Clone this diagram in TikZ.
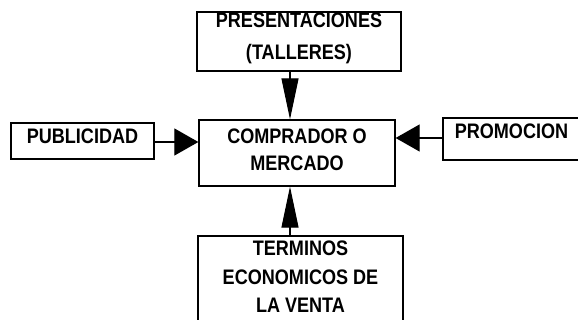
\documentclass[tikz,border=0pt]{standalone}
\usepackage{fontspec}
\setmainfont{Liberation Sans}
\newfontfamily\boxfont[FakeStretch=0.86]{Liberation Sans}
\usetikzlibrary{arrows.meta}
\tikzset{
  box/.style={draw=black, line width=1.3pt, rectangle, inner sep=0pt, align=center,
    font=\boxfont\fontsize{21}{21}\selectfont\bfseries},
  arrv/.style={line width=1.1pt, -{Triangle[length=41pt,width=17pt]}},
  arrh/.style={line width=1.1pt, -{Triangle[length=24pt,width=27pt]}}
}
\newcommand{\liftup}[2]{\raisebox{#1}[\height][\depth]{#2}}
\begin{document}
\begin{tikzpicture}[x=1pt,y=-1pt]
\clip (0,0) rectangle (578,320);
\fill[white] (0,0) rectangle (578,320);
% boxes
\node[box, minimum width=204pt, minimum height=59pt] (pres) at (299,41.5)
  {\liftup{2pt}{\begin{tabular}{@{}c@{}}PRESENTACIONES\\[11pt](TALLERES)\end{tabular}}};
\node[box, minimum width=196pt, minimum height=66pt] (comp) at (297,153)
  {\liftup{0pt}{\begin{tabular}{@{}c@{}}COMPRADOR O\\[6pt]MERCADO\end{tabular}}};
\node[box, minimum width=143pt, minimum height=36pt] (pub) at (82.5,141)
  {\liftup{5pt}{PUBLICIDAD}};
\node[box, minimum width=137pt, minimum height=42pt] (prom) at (511.5,139)
  {\liftup{7.5pt}{PROMOCION}};
\node[box, minimum width=205pt, minimum height=94pt] (term) at (300.5,283)
  {\liftup{3pt}{\begin{tabular}{@{}c@{}}TERMINOS\\[7.5pt]ECONOMICOS DE\\[7.5pt]LA VENTA\end{tabular}}};
% connector guides
\coordinate (vx) at (290,0);
\coordinate (hyl) at (0,142);
\coordinate (hyr) at (0,138);
% connectors
\draw[arrv] (pres.south -| vx) -- (comp.north -| vx);
\draw[arrv] (term.north -| vx) -- (comp.south -| vx);
\draw[arrh] (pub.east |- hyl) -- (comp.west |- hyl);
\draw[arrh] (prom.west |- hyr) -- (comp.east |- hyr);
\end{tikzpicture}
\end{document}
